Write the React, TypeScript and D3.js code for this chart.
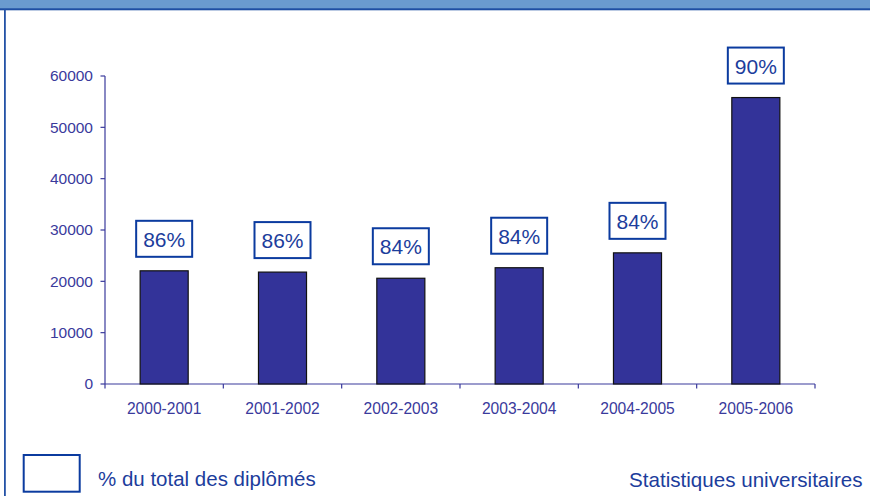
import React from "react";
import * as d3 from "d3";

const categories = ["2000-2001", "2001-2002", "2002-2003", "2003-2004", "2004-2005", "2005-2006"];
const diplomes = [22050, 21800, 20600, 22650, 25550, 55800];
const pctLabels = ["86%", "86%", "84%", "84%", "84%", "90%"];
const yTicks = [0, 10000, 20000, 30000, 40000, 50000, 60000];
const legendLabel = "% du total des diplômés";
const sourceLabel = "Statistiques universitaires";

const W = 870;
const H = 496;
const FONT = "'Liberation Sans', Arial, sans-serif";
const AXIS_COLOR = "#3a3a9c";
const BAR_COLOR = "#333399";
const LABEL_COLOR = "#1c3d9c";
const BOX_COLOR = "#0b3b9f";

export default function App() {
  const x = d3
    .scaleBand<string>()
    .domain(categories)
    .range([105, 815])
    .paddingInner(0.594)
    .paddingOuter(0.297);
  const y = d3.scaleLinear().domain([0, 60000]).range([384, 76]);
  const step = x.step();
  const left = 105;
  const boundaries = d3.range(categories.length + 1).map((i) => left + i * step);

  const boxW = 56;
  const boxH = 36;
  const gap = 14;

  return (
    <svg
      width={W}
      height={H}
      style={{ position: "absolute", left: 0, top: 0, background: "#fff" }}
      fontFamily={FONT}
    >
      {/* frame */}
      <rect x={0} y={0} width={W} height={9} fill="#6a9bcf" />
      <rect x={0} y={8.3} width={W} height={2} fill="#1f4fa3" />
      <rect x={4} y={9} width={1.8} height={H - 9} fill="#2452a6" />

      {/* y axis */}
      <line x1={left} x2={left} y1={y(60000)} y2={y(0)} stroke={AXIS_COLOR} strokeWidth={1.2} />
      {yTicks.map((t) => (
        <g key={t}>
          <line x1={left - 4.5} x2={left} y1={y(t)} y2={y(t)} stroke={AXIS_COLOR} strokeWidth={1.2} />
          <text
            x={93}
            y={y(t)}
            dy="0.35em"
            textAnchor="end"
            fontSize={15.5}
            fill={AXIS_COLOR}
          >
            {t}
          </text>
        </g>
      ))}

      {/* x axis */}
      <line x1={left} x2={815} y1={y(0)} y2={y(0)} stroke={AXIS_COLOR} strokeWidth={1.2} />
      {boundaries.map((b, i) => (
        <line key={i} x1={b} x2={b} y1={y(0)} y2={y(0) + 4.5} stroke={AXIS_COLOR} strokeWidth={1.2} />
      ))}
      {categories.map((c) => (
        <text
          key={c}
          x={(x(c) as number) + x.bandwidth() / 2}
          y={413.5}
          textAnchor="middle"
          fontSize={15.6}
          fill={AXIS_COLOR}
        >
          {c}
        </text>
      ))}

      {/* bars */}
      {categories.map((c, i) => (
        <rect
          key={c}
          x={x(c) as number}
          y={y(diplomes[i])}
          width={x.bandwidth()}
          height={y(0) - y(diplomes[i])}
          fill={BAR_COLOR}
          stroke="#111"
          strokeWidth={1.2}
        />
      ))}

      {/* percentage boxes */}
      {categories.map((c, i) => {
        const cx = (x(c) as number) + x.bandwidth() / 2;
        const bottom = y(diplomes[i]) - gap;
        const top = bottom - boxH;
        return (
          <g key={c}>
            <rect
              x={cx - boxW / 2}
              y={top}
              width={boxW}
              height={boxH}
              fill="#fff"
              stroke={BOX_COLOR}
              strokeWidth={2}
            />
            <text
              x={cx}
              y={top + boxH / 2 + 8}
              textAnchor="middle"
              fontSize={21}
              fill={LABEL_COLOR}
            >
              {pctLabels[i]}
            </text>
          </g>
        );
      })}

      {/* legend */}
      <rect x={23.7} y={455} width={56} height={36.7} fill="#fff" stroke={BOX_COLOR} strokeWidth={2} />
      <text x={98} y={485.7} fontSize={20.5} fill={LABEL_COLOR}>
        {legendLabel}
      </text>
      <text x={629} y={486.7} fontSize={20.6} fill={LABEL_COLOR}>
        {sourceLabel}
      </text>
    </svg>
  );
}
